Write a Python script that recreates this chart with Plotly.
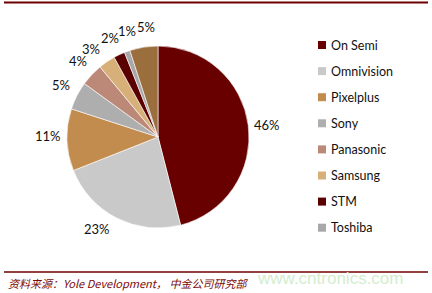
import math
import plotly.graph_objects as go

labels = ["On Semi", "Omnivision", "Pixelplus", "Sony", "Panasonic", "Samsung", "STM", "Toshiba", "Others"]
values = [46, 23, 11, 5, 4, 3, 2, 1, 5]
colors = ["#680000", "#C9C9C9", "#C18C4E", "#AEAEAE", "#BC8979", "#D7AF79", "#5A0000", "#A8A8A8", "#9B6E3D"]
legend_labels = labels[:8]
# label placement nudges (degrees) to keep the small-slice labels apart
label_nudge = [1, 6.5, 2.5, 1, 0.5, -3, -0.6, 3.6, 3]

W, H = 432, 293
cx, cy, r = 158, 137, 91  # pixel layout of pie (from top-left)

fig = go.Figure()
fig.add_trace(go.Pie(
    labels=labels, values=values, sort=False, direction="clockwise", rotation=0,
    marker=dict(colors=colors, line=dict(color="white", width=0.6)),
    textinfo="none", hoverinfo="label+percent", showlegend=False,
    domain=dict(x=[(cx - r) / W, (cx + r) / W], y=[(H - cy - r) / H, (H - cy + r) / H]),
))

total = sum(values)
cum = 0
annotations = []
for v, nd in zip(values, label_nudge):
    mid = (cum + v / 2) / total * 2 * math.pi + math.radians(nd)
    cum += v
    px = cx + 1.21 * r * math.sin(mid)
    py = cy - 1.21 * r * math.cos(mid)
    annotations.append(dict(x=px / W, y=1 - py / H, xref="paper", yref="paper",
                            text=f"{round(v / total * 100)}%", showarrow=False,
                            font=dict(family="Lato, sans-serif", size=13, color="#111111"),
                            xanchor="center", yanchor="middle"))

shapes = [
    dict(type="line", xref="paper", yref="paper", x0=4 / W, x1=428 / W, y0=1 - 2.5 / H, y1=1 - 2.5 / H,
         line=dict(color="#6E0000", width=2)),
    dict(type="line", xref="paper", yref="paper", x0=4 / W, x1=428 / W, y0=1 - 272 / H, y1=1 - 272 / H,
         line=dict(color="#6E0000", width=1.5)),
]

# legend (8 companies) drawn as swatches + text
for i, (lab, col) in enumerate(zip(legend_labels, colors[:8])):
    ly = 45 + 26.1 * i
    shapes.append(dict(type="rect", xref="paper", yref="paper",
                       x0=318 / W, x1=326 / W, y0=1 - (ly + 4) / H, y1=1 - (ly - 4) / H,
                       fillcolor=col, line=dict(width=0)))
    annotations.append(dict(x=328.5 / W, y=1 - ly / H, xref="paper", yref="paper", text=lab,
                            showarrow=False, xanchor="left", yanchor="middle",
                            font=dict(family="Lato, sans-serif", size=12.5, color="#111111")))

annotations.append(dict(x=255 / W, y=1 - 278.5 / H, xref="paper", yref="paper",
                        text="www.cntronics.com", showarrow=False, xanchor="left", yanchor="middle",
                        font=dict(family="Liberation Sans, Arial", size=17, color="#D3EDCF")))
annotations.append(dict(x=6 / W, y=1 - 282.5 / H, xref="paper", yref="paper",
                        text="<i>资料来源：Yole Development， 中金公司研究部</i>", showarrow=False,
                        xanchor="left", yanchor="middle",
                        font=dict(family="Noto Sans CJK SC, sans-serif", size=11, color="#7A0A0A")))

fig.update_layout(
    width=W, height=H, margin=dict(l=0, r=0, t=0, b=0),
    paper_bgcolor="white", plot_bgcolor="white",
    annotations=annotations, shapes=shapes, showlegend=False,
)

fig.write_html("out.html")
